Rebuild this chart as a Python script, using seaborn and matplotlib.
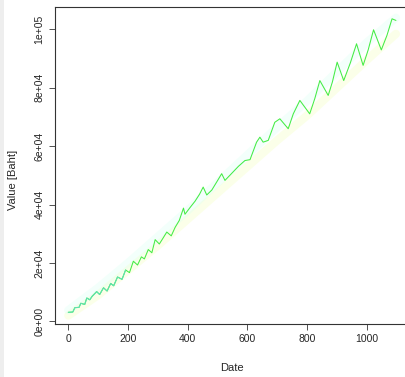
import matplotlib

matplotlib.use("Agg")

import matplotlib.pyplot as plt
import pandas as pd
import seaborn as sns
from matplotlib.patches import Rectangle

# zigzag vertices of the main series (day index, value in Baht)
days = [0, 15, 22, 36, 42, 55, 62, 72, 80, 95, 105, 118, 130, 142, 152, 165,
        180, 192, 205, 218, 232, 245, 255, 268, 280, 291, 305, 318, 330, 345,
        358, 372, 386, 391, 408, 425, 440, 452, 464, 481, 500, 514, 525, 542,
        556, 570, 592, 609, 631, 642, 653, 670, 692, 709, 737, 754, 776, 809,
        826, 843, 871, 885, 901, 923, 945, 966, 988, 1005, 1023, 1049, 1068,
        1085, 1098]
values = [3100, 3200, 4700, 4800, 6200, 5800, 8000, 7400, 8600, 10200, 9200,
          11500, 10400, 13000, 12200, 15200, 14400, 17600, 16700, 20600, 19300,
          22100, 21400, 24600, 23500, 28000, 26500, 28600, 30600, 29300, 32200,
          34600, 38800, 36700, 39000, 41200, 43600, 46000, 43300, 45000, 48200,
          50600, 48300, 50100, 51600, 53100, 55100, 55400, 61400, 63100, 61400,
          62000, 68200, 69400, 66000, 71100, 75700, 71100, 76300, 82500, 77400,
          82000, 88800, 82500, 88500, 95100, 87700, 93000, 99900, 93000, 98000,
          103660, 103100]

# faint companion series drawn in pale colours
pale_days = [0, 100, 200, 300, 400, 500, 600, 700, 800, 900, 1000, 1098]
pale_low = [2000, 9000, 17500, 26000, 35000, 44000, 53000, 62000, 70500, 80000, 89500, 98500]
pale_high = [3800, 11500, 20000, 29000, 38000, 47500, 57000, 66500, 75500, 85500, 95500, 104000]

x_ticks = [0, 200, 400, 600, 800, 1000]
y_ticks = [0, 20000, 40000, 60000, 80000, 100000]
y_tick_labels = ["0e+00", "2e+04", "4e+04", "6e+04", "8e+04", "1e+05"]

W, H = 406, 377

sns.set_theme(style="white")
plt.rcParams["font.family"] = ["Liberation Sans", "DejaVu Sans"]

fig = plt.figure(figsize=(W / 100, H / 100), dpi=100)
fig.patches.append(Rectangle((0, 0), 4 / W, 1, transform=fig.transFigure,
                             facecolor="#eeeeee", edgecolor="none", zorder=0))
ax = fig.add_axes([55 / W, 1 - 324 / H, (409 - 55) / W, (324 - 7) / H])

main = pd.DataFrame({"Date": days, "Value": values})
pale = pd.DataFrame({"Date": pale_days, "low": pale_low, "high": pale_high})

sns.lineplot(data=pale, x="Date", y="low", ax=ax, color="#f4ffb8", lw=6, alpha=0.3)
sns.lineplot(data=pale, x="Date", y="high", ax=ax, color="#d8fff2", lw=6, alpha=0.3)
sns.lineplot(data=main, x="Date", y="Value", ax=ax, color="#44ec44", lw=0.75,
             estimator=None, sort=False)
early = main[main["Date"] <= 200]
sns.lineplot(data=early, x="Date", y="Value", ax=ax, color="#5fe0b4", lw=0.75,
             estimator=None, sort=False)

ax.set_xlim(-44.6, 1141.8)
ax.set_ylim(-900, 107700)
ax.set_xticks(x_ticks)
ax.set_xticklabels([str(t) for t in x_ticks], fontsize=7.5)
ax.set_yticks(y_ticks)
ax.set_yticklabels(y_tick_labels, fontsize=7.5, rotation=90, va="center")
ax.tick_params(axis="both", direction="out", length=4.5, width=0.6, color="#333333",
               left=True, bottom=True, pad=3)
for side in ["left", "bottom", "top", "right"]:
    ax.spines[side].set_color("#333333")
    ax.spines[side].set_linewidth(0.8)
ax.set_xlabel("")
ax.set_ylabel("")
ax.grid(False)

fig.text(232 / W, 1 - 368 / H, "Date", ha="center", va="center", fontsize=8)
fig.text(13 / W, 1 - 180 / H, "Value [Baht]", ha="center", va="center",
         rotation=90, fontsize=8)

fig.savefig("out.png", dpi=100)
